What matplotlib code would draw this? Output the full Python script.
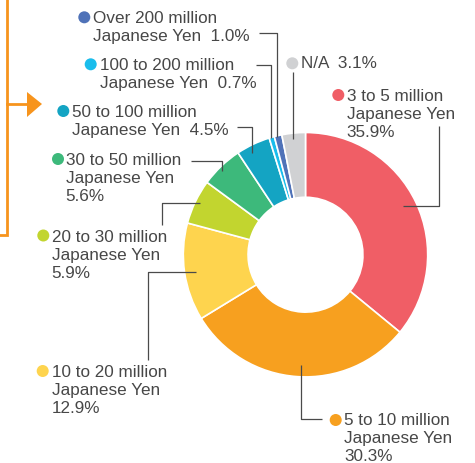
import matplotlib
matplotlib.use("Agg")
import matplotlib.pyplot as plt
from matplotlib.patches import Circle, Polygon

# ---- data ----
categories = ["3 to 5 million\nJapanese Yen\n35.9%",
              "5 to 10 million\nJapanese Yen\n30.3%",
              "10 to 20 million\nJapanese Yen\n12.9%",
              "20 to 30 million\nJapanese Yen\n5.9%",
              "30 to 50 million\nJapanese Yen\n5.6%",
              "50 to 100 million\nJapanese Yen  4.5%",
              "100 to 200 million\nJapanese Yen  0.7%",
              "Over 200 million\nJapanese Yen  1.0%",
              "N/A  3.1%"]
values = [35.9, 30.3, 12.9, 5.9, 5.6, 4.5, 0.7, 1.0, 3.1]
colors = ["#F05E66", "#F7A01F", "#FED44E", "#C2D52F", "#3DB97B",
          "#14A4C3", "#1ABDEC", "#4F72B8", "#D0D1D3"]

W, H = 475, 463
fig = plt.figure(figsize=(W / 100, H / 100), dpi=100)

# pie axes: centre (305.5, 254.7) px, radius 122.2 px
cx, cy, r = 305.5, 254.7, 122.2
ax = fig.add_axes([(cx - r) / W, (H - cy - r) / H, 2 * r / W, 2 * r / H])
ax.pie(values, colors=colors, startangle=90, counterclock=False, radius=1.0,
       wedgeprops=dict(width=0.53, edgecolor="white", linewidth=1.2))
ax.set_xlim(-1, 1)
ax.set_ylim(-1, 1)
ax.set_aspect("auto")
ax.axis("off")

# overlay axes in pixel coordinates
ov = fig.add_axes([0, 0, 1, 1])
ov.set_xlim(0, W)
ov.set_ylim(H, 0)
ov.axis("off")
ov.patch.set_alpha(0)

txt_color = "#474747"
line_color = "#4a4a4a"
fs = 12.3
fam = ["Liberation Sans", "DejaVu Sans"]

# label layout: (text x, first baseline y, dot x, dot y)
layout = [
    (346.7, 101.0, 338.3, 95.0),
    (344.0, 425.3, 335.7, 420.0),
    (51.7, 376.7, 42.7, 371.0),
    (51.7, 242.0, 43.3, 235.5),
    (65.7, 165.0, 58.0, 159.0),
    (71.7, 117.3, 63.3, 111.0),
    (99.5, 70.0, 90.7, 64.3),
    (92.7, 23.3, 84.3, 17.3),
    (301.0, 68.3, 292.3, 63.3),
]
lh = 18.0
for lab, col, (tx, ty, dx, dy) in zip(categories, colors, layout):
    for i, ln in enumerate(lab.split("\n")):
        ov.text(tx, ty + i * lh, ln, fontsize=fs, family=fam, color=txt_color,
                va="baseline", ha="left")
    ov.add_patch(Circle((dx, dy), 6.0, color=col, lw=0))

# leader lines
leaders = [
    [(403, 206), (439, 206), (439, 126)],
    [(301, 365), (301, 419), (322, 419)],
    [(196, 272), (148, 272), (148, 360)],
    [(200, 203), (162, 203), (162, 225)],
    [(191, 161), (222, 161), (222, 171)],
    [(237, 127), (252, 127), (252, 153)],
    [(256, 65), (271, 65), (271, 138)],
    [(259, 33), (277, 33), (277, 137)],
    [(293, 72), (293, 139)],
]
for pts in leaders:
    xs, ys = zip(*pts)
    ov.plot(xs, ys, color=line_color, lw=0.9, solid_capstyle="butt")

# orange bracket with arrow
orange = "#F7941D"
ov.plot([7, 7, 0], [0, 235, 235], color=orange, lw=2.0, solid_joinstyle="miter")
ov.plot([7, 28], [104, 104], color=orange, lw=2.0)
ov.add_patch(Polygon([(27, 92), (42, 104), (27, 117)], closed=True, color=orange, lw=0))

fig.savefig("out.png", dpi=100)
